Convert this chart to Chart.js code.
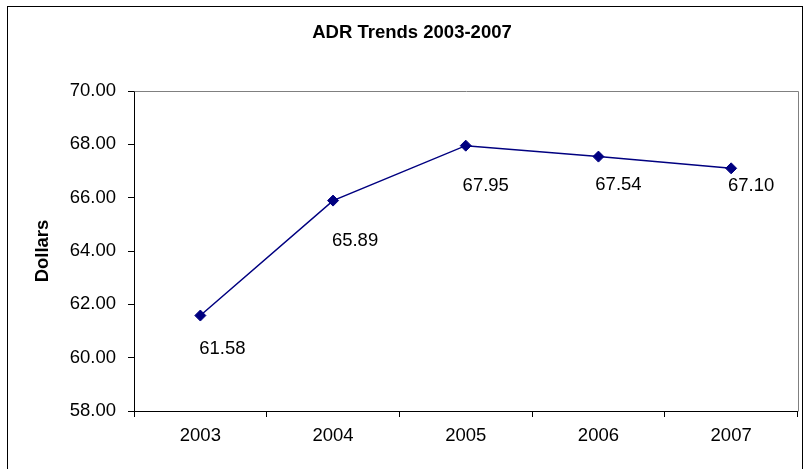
<!DOCTYPE html>
<html>
<head>
<meta charset="utf-8">
<title>ADR Trends 2003-2007</title>
<script src="https://cdn.jsdelivr.net/npm/chart.js@4/dist/chart.umd.min.js"></script>
<style>
  html, body { margin: 0; padding: 0; background: #ffffff; }
  #wrap { width: 804px; height: 469px; position: relative; }
  canvas { display: block; }
</style>
</head>
<body>
<div id="wrap"><canvas id="adr" width="804" height="469"></canvas></div>
<script>
// Average daily rate by year
const years = ['2003', '2004', '2005', '2006', '2007'];
const adrValues = [61.58, 65.89, 67.95, 67.54, 67.10];
const yMin = 58;
const yMax = 70;
const yStep = 2;

const chartTitle = 'ADR Trends 2003-2007';
const yTitle = 'Dollars';

// label placement relative to each point (pixels)
const labelDx = [22, 22, 20, 20, 20];
const labelDy = [33, 40, 40, 28, 18];

const FONT = '"Liberation Sans", Arial, sans-serif';
const NAVY = '#000080';

const framePlugin = {
  id: 'frame',
  beforeDraw(chart) {
    const ctx = chart.ctx;
    ctx.save();
    ctx.fillStyle = '#ffffff';
    ctx.fillRect(0, 0, chart.width, chart.height);
    ctx.restore();
  },
  afterDraw(chart) {
    const ctx = chart.ctx;
    const a = chart.chartArea;
    ctx.save();
    // outer frame (bottom edge runs past the canvas)
    ctx.strokeStyle = '#000000';
    ctx.lineWidth = 1;
    ctx.strokeRect(7.5, 6.5, 795, 470);
    // plot area top and right edges
    ctx.strokeStyle = '#808080';
    ctx.beginPath();
    ctx.moveTo(Math.round(a.left) + 0.5, Math.round(a.top) + 0.5);
    ctx.lineTo(Math.round(a.right) + 0.5, Math.round(a.top) + 0.5);
    ctx.lineTo(Math.round(a.right) + 0.5, Math.round(a.bottom) + 0.5);
    ctx.stroke();
    // chart title
    ctx.fillStyle = '#000000';
    ctx.font = 'bold 18.5px ' + FONT;
    ctx.textAlign = 'center';
    ctx.textBaseline = 'middle';
    ctx.fillText(chartTitle, 412, 33);
    ctx.restore();
  }
};

const valueLabels = {
  id: 'valueLabels',
  afterDatasetsDraw(chart) {
    const ctx = chart.ctx;
    const meta = chart.getDatasetMeta(0);
    ctx.save();
    ctx.fillStyle = '#000000';
    ctx.font = '18.5px ' + FONT;
    ctx.textAlign = 'center';
    ctx.textBaseline = 'middle';
    meta.data.forEach((pt, i) => {
      const v = chart.data.datasets[0].data[i];
      ctx.fillText(v.toFixed(2), pt.x + labelDx[i], pt.y + labelDy[i]);
    });
    ctx.restore();
  }
};

new Chart(document.getElementById('adr'), {
  type: 'line',
  data: {
    labels: years,
    datasets: [{
      label: 'ADR',
      data: adrValues,
      borderColor: NAVY,
      backgroundColor: NAVY,
      borderWidth: 1.5,
      tension: 0,
      pointStyle: 'rectRot',
      pointRadius: 5.5,
      pointHoverRadius: 5.5,
      pointBackgroundColor: NAVY,
      pointBorderColor: NAVY,
      pointBorderWidth: 1,
      fill: false
    }]
  },
  options: {
    responsive: false,
    animation: false,
    devicePixelRatio: 1,
    layout: { padding: { left: 0, top: 91, right: 6, bottom: 0 } },
    plugins: {
      legend: { display: false },
      title: { display: false },
      tooltip: { enabled: false }
    },
    scales: {
      x: {
        type: 'category',
        offset: true,
        grid: {
          offset: true,
          drawOnChartArea: false,
          drawTicks: true,
          tickLength: 6,
          color: '#000000'
        },
        border: { display: true, color: '#000000', width: 1 },
        ticks: {
          color: '#000000',
          font: { family: FONT, size: 18.5 },
          padding: 8,
          maxRotation: 0
        },
        afterFit(scale) { scale.height = 58; }
      },
      y: {
        min: yMin,
        max: yMax,
        grid: {
          drawOnChartArea: false,
          drawTicks: true,
          tickLength: 6,
          color: '#000000'
        },
        border: { display: true, color: '#000000', width: 1 },
        ticks: {
          stepSize: yStep,
          color: '#000000',
          font: { family: FONT, size: 18.5 },
          padding: 12,
          callback: (v) => Number(v).toFixed(2)
        },
        title: {
          display: true,
          text: yTitle,
          color: '#000000',
          font: { family: FONT, size: 18.5, weight: 'bold' },
          padding: { top: 32, bottom: 0 }
        },
        afterFit(scale) { scale.width = 134; }
      }
    }
  },
  plugins: [framePlugin, valueLabels]
});
</script>
</body>
</html>
